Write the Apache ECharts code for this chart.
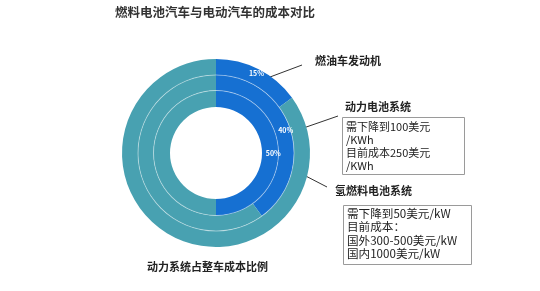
<!DOCTYPE html>
<html><head><meta charset="utf-8">
<script src="https://cdn.jsdelivr.net/npm/echarts@6/dist/echarts.min.js"></script>
<style>html,body{margin:0;padding:0;background:#fff}#c{width:540px;height:291px}</style>
</head><body><div id="c"></div>
<script>
const title = '燃料电池汽车与电动汽车的成本对比';
const subtitle = '动力系统占整车成本比例';
const ringNames = ['燃油车发动机', '动力电池系统', '氢燃料电池系统'];
const shares = [15, 40, 50];
const rest = [85, 60, 50];
const note1 = ['需下降到100美元', '/KWh', '目前成本250美元', '/KWh'];
const note2 = ['需下降到50美元/kW', '目前成本：', '国外300-500美元/kW', '国内1000美元/kW'];

const FONT = 'Noto Sans CJK SC';
const BLUE = '#1670d2';
const TEAL = '#48a1b1';
const radii = [[78, 94], [62.5, 78], [46, 62.5]]; // outer ring = first item
const center = [216, 153];

const series = ringNames.map((n, i) => ({
  type: 'pie',
  center: center,
  radius: radii[i],
  startAngle: 90,
  clockwise: true,
  silent: true,
  animation: false,
  label: {
    show: true, position: 'inside', color: '#fff', fontSize: 7, fontWeight: 'bold',
    fontFamily: FONT,
    formatter: p => p.dataIndex === 0 ? p.value + '%' : ''
  },
  labelLine: { show: false },
  itemStyle: { borderWidth: 0 },
  data: [
    { value: shares[i], name: n, itemStyle: { color: BLUE } },
    { value: rest[i], name: '其他', itemStyle: { color: TEAL } }
  ]
}));
// thin separator rings between the three donuts
[[77.6, 78.5], [62, 62.9]].forEach(r => series.push({
  type: 'pie', center: center, radius: r, silent: true, animation: false,
  label: { show: false }, labelLine: { show: false },
  itemStyle: { color: 'rgba(255,255,255,0.45)' },
  data: [{ value: 1, name: 'sep' }]
}));

const txt = (text, size, weight, extra) => Object.assign({
  text: text, fontFamily: FONT, fontSize: size, fontWeight: weight, fill: '#222'
}, extra || {});
const graphic = [
  { type: 'text', left: 115, top: 6, style: txt(title, 12.5, 'bold', { fill: '#333' }) },
  { type: 'text', left: 147, top: 261, style: txt(subtitle, 11, 'bold') },
  // leader lines
  { type: 'line', shape: { x1: 270, y1: 77, x2: 302, y2: 65 }, style: { stroke: '#333', lineWidth: 1 } },
  { type: 'line', shape: { x1: 289, y1: 133, x2: 338, y2: 116 }, style: { stroke: '#333', lineWidth: 1 } },
  { type: 'line', shape: { x1: 269, y1: 157, x2: 327, y2: 187 }, style: { stroke: '#333', lineWidth: 1 } },
  // names
  { type: 'text', left: 315, top: 55, style: txt(ringNames[0], 11, 'bold') },
  { type: 'text', left: 345, top: 101, style: txt(ringNames[1], 11, 'bold') },
  { type: 'text', left: 335, top: 185, style: txt(ringNames[2], 11, 'bold') },
  // boxes
  { type: 'rect', shape: { x: 342.5, y: 117.5, width: 122, height: 57 }, style: { fill: 'none', stroke: '#9a9a9a', lineWidth: 1 } },
  { type: 'text', left: 346, top: 120, style: txt(note1.join('\n'), 11, 'normal', { lineHeight: 13 }) },
  { type: 'rect', shape: { x: 343.5, y: 205.5, width: 128, height: 59 }, style: { fill: 'none', stroke: '#9a9a9a', lineWidth: 1 } },
  { type: 'text', left: 347, top: 207, style: txt(note2.join('\n'), 11.6, 'normal', { lineHeight: 13.3 }) }
];

const chart = echarts.init(document.getElementById('c'), null, { renderer: 'canvas' });
chart.setOption({ animation: false, backgroundColor: '#fff', series: series, graphic: graphic });
</script></body></html>
